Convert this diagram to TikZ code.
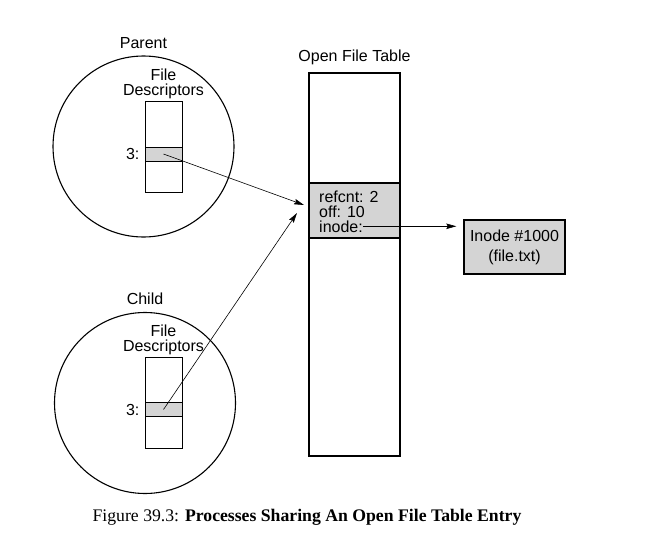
\documentclass[tikz,border=0pt]{standalone}
\usepackage{fontspec}
\setmainfont{Liberation Sans}
\newfontfamily\capfont{Liberation Serif}
\colorlet{lightgrey}{black!17}
\usetikzlibrary{arrows.meta,positioning}
\tikzstyle{proc}=[draw,circle,line width=1.1pt,minimum size=181pt,inner sep=0pt]
\tikzstyle{fdbox}=[draw,line width=.7pt,minimum width=37pt,minimum height=91pt,inner sep=0pt]
\tikzstyle{slot}=[draw,line width=.9pt,fill=lightgrey,minimum width=37pt,minimum height=14pt,inner sep=0pt]
\tikzstyle{txt}=[font=\fontsize{16}{15}\selectfont,align=center,inner sep=0pt]
\tikzstyle{field}=[font=\fontsize{16}{15}\selectfont,inner sep=0pt,anchor=base west]
\tikzstyle{table}=[draw,line width=1.1pt,minimum width=91pt,minimum height=383pt,inner sep=0pt]
\tikzstyle{entry}=[draw,line width=1.1pt,fill=lightgrey,minimum width=91pt,minimum height=55pt,inner sep=0pt]
\tikzstyle{inodebox}=[draw,line width=1.4pt,fill=lightgrey,minimum width=101pt,minimum height=54pt,
  inner sep=0pt,align=center,font=\fontsize{16}{20}\selectfont]
\tikzstyle{ptr}=[->, line width=.6pt]

\begin{document}
\begin{tikzpicture}[x=1pt, y=-1pt, >={Stealth[length=10pt,width=5.5pt,inset=1.5pt]}]
  \useasboundingbox (0,0) rectangle (670,536);

  % processes
  \node[proc] (parent) at (143.5,146.5) {};
  \node[txt, above=7pt of parent] (parentlbl) {Parent};
  \node[fdbox] (pfd) at (163.5,146.5) {};
  \node[txt, above=1.5pt of pfd] (pfdlbl) {File\\Descriptors};
  \node[slot] (pslot) at (163.5,154) {};
  \node[txt, left=5pt of pslot] (pnum) {3:};

  \node[proc] (child) at (145,403) {};
  \node[txt, above=7pt of child] (childlbl) {Child};
  \node[fdbox] (cfd) at (163.5,402.5) {};
  \node[txt, above=1.5pt of cfd] (cfdlbl) {File\\Descriptors};
  \node[slot] (cslot) at (163.5,409.5) {};
  \node[txt, left=5pt of cslot] (cnum) {3:};

  % open file table
  \node[table] (oft) at (354.5,264.5) {};
  \node[txt, above=7pt of oft] (oftlbl) {Open File Table};
  \node[entry] (entry) at (354.5,210.5) {};
  \node[field] (refcnt) at (319,202) {refcnt: 2};
  \node[field] (off) at (319,217) {off: 10};
  \node[field] (inodef) at (319,232) {inode:};

  \node[inodebox] (inode) at (514.5,247) {Inode \#1000\\(file.txt)};

  \coordinate (ptip) at (304,205);
  \coordinate (ctip) at (297,213);
  \draw[ptr] (pslot.center) -- (ptip);
  \draw[ptr] (cslot.center) -- (ctip);
  \draw[ptr, shorten >=7pt] (inodef.east) -- (inodef.east -| inode.west);

  \node[font=\capfont\fontsize{17.7}{19}\selectfont] (caption) at (307,517)
    {Figure 39.3: \textbf{Processes Sharing An Open File Table Entry}};
\end{tikzpicture}
\end{document}
